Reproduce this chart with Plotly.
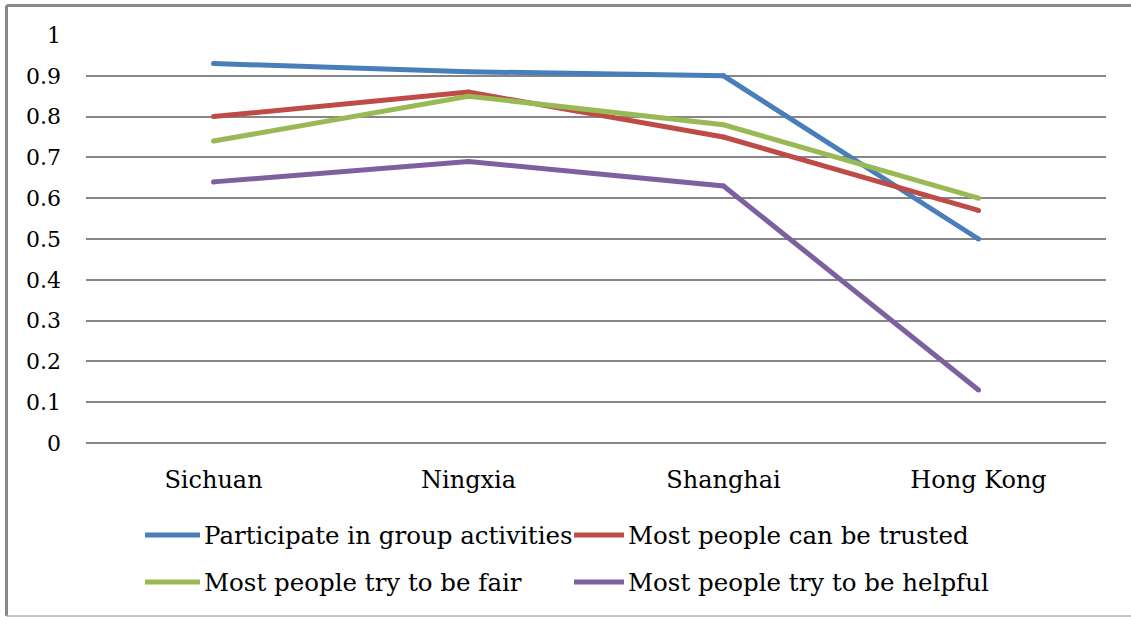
import plotly.graph_objects as go

# Survey results by region
regions = ["Sichuan", "Ningxia", "Shanghai", "Hong Kong"]
series_names = [
    "Participate in group activities",
    "Most people can be trusted",
    "Most people try to be fair",
    "Most people try to be helpful",
]
participate = [0.93, 0.91, 0.90, 0.50]
trusted = [0.80, 0.86, 0.75, 0.57]
fair = [0.74, 0.85, 0.78, 0.60]
helpful = [0.64, 0.69, 0.63, 0.13]
colors = ["#4A7EBB", "#BE4B48", "#98B954", "#7D60A0"]
y_ticks = [0, 0.1, 0.2, 0.3, 0.4, 0.5, 0.6, 0.7, 0.8, 0.9, 1]
y_tick_text = ["0", "0.1", "0.2", "0.3", "0.4", "0.5", "0.6", "0.7", "0.8", "0.9", "1"]

W, H = 1131, 617
ML, MR, MT, MB = 86, 25, 35, 174
PW, PH = W - ML - MR, H - MT - MB
FONT = "DejaVu Serif"


def px_x(x):
    return (x - ML) / PW


def px_y(y):
    return (H - MB - y) / PH


fig = go.Figure()
for name, vals, col in zip(series_names, [participate, trusted, fair, helpful], colors):
    # small round markers give the lines rounded ends and joins
    fig.add_trace(go.Scatter(
        x=regions, y=vals, name=name, mode="lines+markers",
        line=dict(color=col, width=5),
        marker=dict(color=col, size=5, line=dict(width=0)),
        showlegend=False,
    ))

shapes = [
    # chart frame
    dict(type="line", xref="paper", yref="paper", x0=px_x(6.5), x1=px_x(1140),
         y0=px_y(5.5), y1=px_y(5.5), line=dict(color="#898989", width=3)),
    dict(type="line", xref="paper", yref="paper", x0=px_x(6.5), x1=px_x(6.5),
         y0=px_y(5.5), y1=px_y(616), line=dict(color="#898989", width=3)),
    dict(type="line", xref="paper", yref="paper", x0=px_x(6.5), x1=px_x(1140),
         y0=px_y(616), y1=px_y(616), line=dict(color="#b0b0b0", width=1.5)),
]
annotations = []

# legend laid out in two rows of two entries: (line start, line end, row y)
legend_pos = [(145, 200, 535), (574, 624, 535), (145, 200, 582), (574, 624, 582)]
for (lx0, lx1, ly), name, col in zip(legend_pos, series_names, colors):
    shapes.append(dict(type="line", xref="paper", yref="paper",
                       x0=px_x(lx0), x1=px_x(lx1), y0=px_y(ly), y1=px_y(ly),
                       line=dict(color=col, width=5)))
    annotations.append(dict(xref="paper", yref="paper", x=px_x(lx1 + 2), y=px_y(ly),
                            text=name, showarrow=False, xanchor="left", yanchor="middle",
                            font=dict(family=FONT, size=24.5, color="#000000")))

fig.update_layout(
    width=W, height=H,
    margin=dict(l=ML, r=MR, t=MT, b=MB),
    paper_bgcolor="#ffffff", plot_bgcolor="#ffffff",
    font=dict(family=FONT, size=24, color="#000000"),
    shapes=shapes, annotations=annotations,
    xaxis=dict(
        type="category", categoryorder="array", categoryarray=regions,
        range=[-0.5, 3.5], showgrid=False, zeroline=False, showline=False,
        ticks="", ticklabelstandoff=20, fixedrange=True,
        tickfont=dict(family=FONT, size=24, color="#000000"),
    ),
    yaxis=dict(
        range=[0, 1], tickvals=y_ticks, ticktext=y_tick_text,
        showgrid=True, gridcolor="#868686", gridwidth=1.5,
        zeroline=True, zerolinecolor="#868686", zerolinewidth=1.5,
        showline=False, ticks="", ticklabelstandoff=24, fixedrange=True,
        tickfont=dict(family=FONT, size=22, color="#000000"),
    ),
    showlegend=False,
)

fig.write_html("out.html")
